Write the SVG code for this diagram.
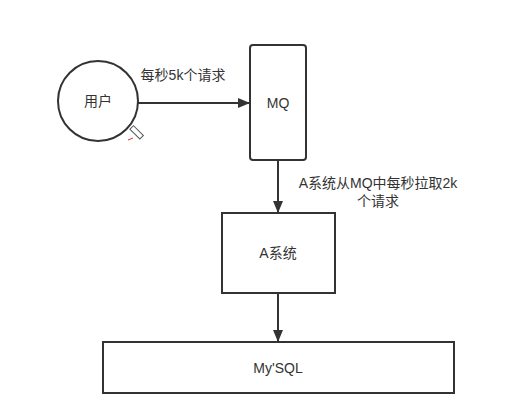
<svg xmlns="http://www.w3.org/2000/svg" width="522" height="412" viewBox="0 0 522 412">
<defs>
<marker id="arr" viewBox="0 0 10 10" refX="10" refY="5" markerWidth="12" markerHeight="10" orient="auto" markerUnits="userSpaceOnUse" preserveAspectRatio="none">
<path d="M0,0 L10,5 L0,10 z" fill="#333"/>
</marker>
<style>
.shape{fill:#fff;stroke:#333;stroke-width:2}
.lbl{font-family:"Liberation Sans","Noto Sans CJK SC",sans-serif;font-size:14px;fill:#333;text-anchor:middle}
.edge{stroke:#333;stroke-width:2;fill:none}
</style>
</defs>
<rect width="522" height="412" fill="#fff"/>
<g id="user">
<circle class="shape" cx="98" cy="101" r="40"/>
<text class="lbl" x="98" y="106">用户</text>
</g>
<g id="mq">
<rect class="shape" x="250" y="45" width="56" height="115" rx="3"/>
<text class="lbl" x="278" y="108">MQ</text>
</g>
<g id="asys">
<rect class="shape" x="222" y="213" width="113" height="80"/>
<text class="lbl" x="278" y="258">A系统</text>
</g>
<g id="mysql">
<rect class="shape" x="103" y="342" width="351" height="51"/>
<text class="lbl" x="278" y="373">My'SQL</text>
</g>
<g id="connectors">
<line class="edge" x1="138" y1="103" x2="250" y2="103" marker-end="url(#arr)"/>
<text class="lbl" x="183" y="80">每秒5k个请求</text>
<line class="edge" x1="278" y1="160" x2="278" y2="213" marker-end="url(#arr)"/>
<text class="lbl" x="378" y="188">A系统从MQ中每秒拉取2k</text>
<text class="lbl" x="378" y="206">个请求</text>
<line class="edge" x1="278" y1="293" x2="278" y2="342" marker-end="url(#arr)"/>
</g>
<g id="cursor">
<rect x="134" y="125" width="5" height="14" fill="#fff" stroke="#555" stroke-width="1" transform="rotate(-45 137 132)"/>
<line x1="128" y1="140" x2="133" y2="138" stroke="#d33" stroke-width="1"/>
</g>
</svg>
